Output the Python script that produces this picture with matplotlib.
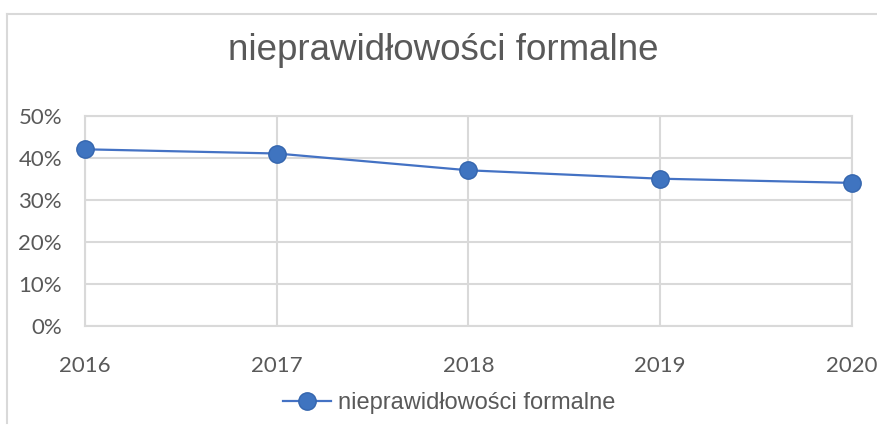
import matplotlib
matplotlib.use("Agg")
import matplotlib.pyplot as plt
from matplotlib.lines import Line2D
from matplotlib.ticker import FuncFormatter

years = ["2016", "2017", "2018", "2019", "2020"]
values = [0.42, 0.41, 0.37, 0.35, 0.34]
series_name = "nieprawidłowości formalne"
title = "nieprawidłowości formalne"
yticks = [0.0, 0.1, 0.2, 0.3, 0.4, 0.5]

W, H = 878, 426
fig = plt.figure(figsize=(W / 100, H / 100), dpi=100)
fig.patch.set_facecolor("white")

ax = fig.add_axes([85 / W, 1 - 325.7 / H, (852 - 85) / W, (325.7 - 115.7) / H])
x = list(range(len(years)))
line_color = "#4472C4"
ax.plot(x, values, color=line_color, lw=1.6, marker="o", markersize=12.5,
        markerfacecolor="#3F74C0", markeredgecolor="#3566AE", markeredgewidth=1.0,
        zorder=5, clip_on=False)

ax.set_xlim(0, len(years) - 1)
ax.set_ylim(0, 0.5)
ax.set_yticks(yticks)
ax.yaxis.set_major_formatter(FuncFormatter(lambda v, p: f"{v*100:.0f}%"))
ax.set_xticks(x)
ax.set_xticklabels(years)

grid_c = "#D9D9D9"
ax.grid(True, color=grid_c, lw=1.5)
ax.set_axisbelow(True)
for s in ax.spines.values():
    s.set_color(grid_c)
    s.set_linewidth(1.5)
ax.tick_params(length=0, colors="#595959", labelsize=16)
ax.tick_params(axis="x", pad=22)
ax.tick_params(axis="y", pad=16.5)
for lab in ax.get_xticklabels() + ax.get_yticklabels():
    lab.set_fontfamily("Lato")
    lab.set_color("#595959")

fig.text(443 / W, 1 - 51 / H, title, ha="center", va="center",
         fontsize=26.5, color="#595959", family="Liberation Sans")

handle = Line2D([], [], color=line_color, lw=1.6, marker="o", markersize=12.5,
                markerfacecolor="#3F74C0", markeredgecolor="#3566AE")
leg = fig.legend([handle], [series_name], loc="center", bbox_to_anchor=(449 / W, 1 - 403 / H),
                 frameon=False, handlelength=2.05, handletextpad=0.3,
                 prop={"family": "Liberation Sans", "size": 17})
for t in leg.get_texts():
    t.set_color("#595959")

# outer chart border (partially visible)
fig.add_artist(Line2D([7.5 / W, 1.0], [1 - 14 / H, 1 - 14 / H], color=grid_c, lw=1.5,
                      transform=fig.transFigure))
fig.add_artist(Line2D([7.5 / W, 7.5 / W], [1 - 14 / H, 1 - 423 / H], color=grid_c, lw=1.5,
                      transform=fig.transFigure))

fig.savefig("out.png", dpi=100, facecolor="white")
